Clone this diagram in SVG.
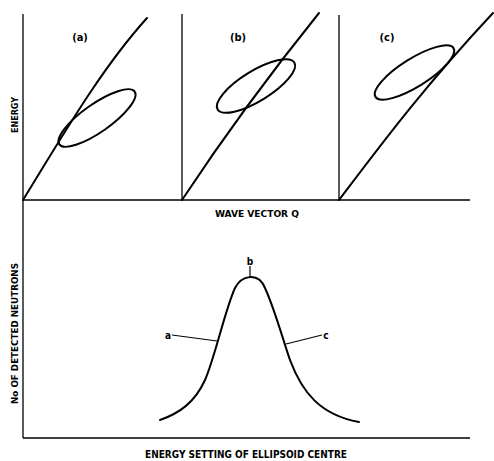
<svg xmlns="http://www.w3.org/2000/svg" width="494" height="461" viewBox="0 0 494 461">
<style>
.ax{stroke:#000;stroke-width:1.3;fill:none}
.cv{stroke:#000;stroke-width:2;fill:none;stroke-linecap:round}
.ld{stroke:#000;stroke-width:1.2;fill:none}
.t{font-family:"DejaVu Sans Condensed","DejaVu Sans","Liberation Sans",sans-serif;font-weight:bold;font-size:9.5px;fill:#000}
.pl{font-size:11px}
.sl{font-size:10px}
</style>
<rect width="494" height="461" fill="#fff"/>
<g id="axes">
<line class="ax" x1="23" y1="14" x2="23" y2="438"/>
<line class="ax" x1="23" y1="200" x2="470" y2="200"/>
<line class="ax" x1="182" y1="14" x2="182" y2="200"/>
<line class="ax" x1="339" y1="15" x2="339" y2="200"/>
<line class="ax" x1="23" y1="438" x2="470" y2="438"/>
</g>
<g id="panel-a">
<path class="cv" d="M23,200 C60,140 100,70 147,18"/>
<ellipse class="cv" cx="97" cy="118" rx="46" ry="14" transform="rotate(-35 97 118)"/>
<text class="t pl" x="80" y="40.5" text-anchor="middle">(a)</text>
</g>
<g id="panel-b">
<path class="cv" d="M182,200 C215,150 265,80 319,13"/>
<ellipse class="cv" cx="256" cy="86" rx="45" ry="15" transform="rotate(-31.5 256 86)"/>
<text class="t pl" x="238" y="40.5" text-anchor="middle">(b)</text>
</g>
<g id="panel-c">
<path class="cv" d="M339,200 C377,150 421,90 493,13"/>
<ellipse class="cv" cx="414.5" cy="72.5" rx="46" ry="14" transform="rotate(-32 414.5 72.5)"/>
<text class="t pl" x="387" y="40.5" text-anchor="middle">(c)</text>
</g>
<g id="axis-labels">
<text class="t" transform="translate(18,115) rotate(-90)" text-anchor="middle" textLength="36" lengthAdjust="spacingAndGlyphs">ENERGY</text>
<text class="t" x="257" y="217" text-anchor="middle" textLength="84" lengthAdjust="spacingAndGlyphs">WAVE VECTOR Q</text>
<text class="t" transform="translate(17.5,333.5) rotate(-90)" text-anchor="middle" textLength="141" lengthAdjust="spacingAndGlyphs">No OF DETECTED NEUTRONS</text>
<text class="t sl" x="246" y="457.5" text-anchor="middle" textLength="202" lengthAdjust="spacingAndGlyphs">ENERGY SETTING OF ELLIPSOID CENTRE</text>
</g>
<g id="peak">
<path class="cv" d="M160,420 C180,413 195,402 205,380 C215,357 225,310 235,288 C241,276 258,271 265,288 C275,310 283,340 290,360 C302,392 320,415 359,422"/>
</g>
<g id="connectors">
<line class="ld" x1="172" y1="335" x2="217" y2="341"/>
<line class="ld" x1="250" y1="266" x2="250" y2="277"/>
<line class="ld" x1="286" y1="344" x2="322" y2="335"/>
</g>
<g id="label-a"><text class="t sl" x="168" y="338.5" text-anchor="middle">a</text></g>
<g id="label-b"><text class="t sl" x="250" y="265" text-anchor="middle">b</text></g>
<g id="label-c"><text class="t sl" x="326" y="338.5" text-anchor="middle">c</text></g>
</svg>
